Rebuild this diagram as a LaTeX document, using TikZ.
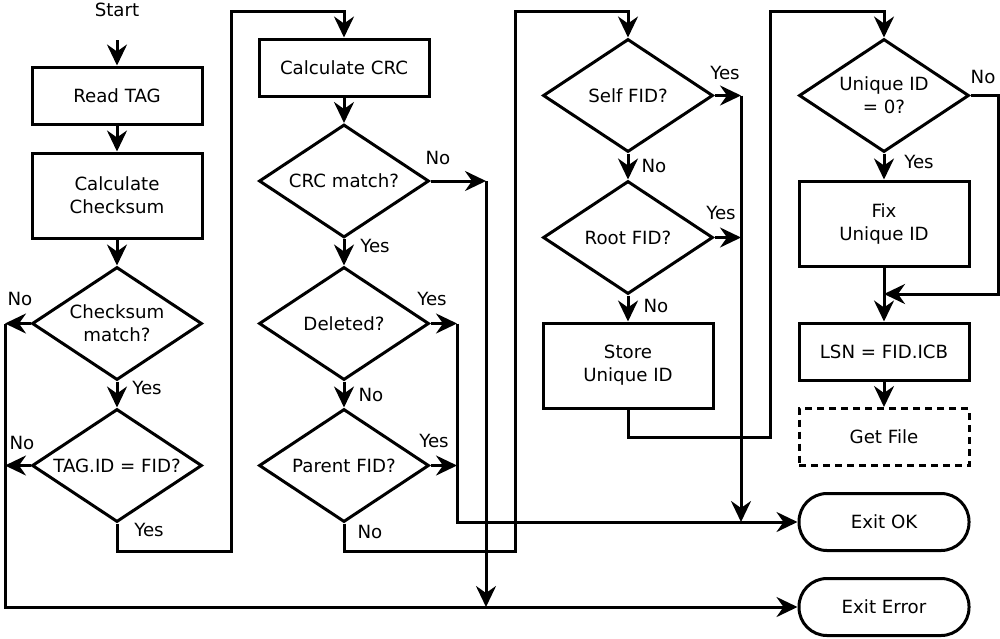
\documentclass[tikz,border=0pt]{standalone}
\usepackage{fontspec}
\setmainfont{DejaVu Sans}
\usetikzlibrary{shapes.geometric,arrows.meta}
\begin{document}
\begin{tikzpicture}[x=1pt,y=-1pt, line width=3pt,
  >={Stealth[length=21pt,width=20pt,inset=7pt]},
  every node/.style={font=\fontsize{18.2}{23}\selectfont, align=center},
  box/.style={draw, rectangle, minimum width=170pt, minimum height=#1, inner sep=0pt},
  dbox/.style={box=#1, dash pattern=on 7pt off 5pt},
  term/.style={draw, rectangle, rounded corners=28pt, minimum width=170pt, minimum height=57pt, inner sep=0pt},
  decision/.style={draw, diamond, aspect=1.5, minimum width=170pt, minimum height=113pt, inner sep=0pt},
  lbl/.style={inner sep=0pt}]
\useasboundingbox (0,0) rectangle (1000,638);

% nodes
\node[lbl] (start) at (117,10) {Start};
\node[box=57pt] (read) at (117,95.5) {Read TAG};
\node[box=85pt] (cks) at (117,195.5) {Calculate\\Checksum};
\node[decision] (cm) at (117,323.5) {Checksum\\match?};
\node[decision] (tid) at (117,465.5) {TAG.ID = FID?};

\node[box=57pt] (crc) at (344,67.5) {Calculate CRC};
\node[decision] (crcm) at (344,181) {CRC match?};
\node[decision] (del) at (344,323.5) {Deleted?};
\node[decision] (par) at (344,465.5) {Parent FID?};

\node[decision] (self) at (628,95.5) {Self FID?};
\node[decision] (root) at (628,237.5) {Root FID?};
\node[box=85pt] (store) at (628,365.5) {Store\\Unique ID};

\node[decision] (uid) at (884,95.5) {Unique ID\\= 0?};
\node[box=85pt] (fix) at (884,223.5) {Fix\\Unique ID};
\node[box=57pt] (lsn) at (884,351.5) {LSN = FID.ICB};
\node[dbox=57pt] (getf) at (884,437) {Get File};
\node[term] (exok) at (884,522) {Exit OK};
\node[term] (exerr) at (884,607) {Exit Error};

% labels
\node[lbl] at (20,299) {No};
\node[lbl] at (147,388) {Yes};
\node[lbl] at (22,443) {No};
\node[lbl] at (149,530) {Yes};
\node[lbl] at (438,158) {No};
\node[lbl] at (375,246) {Yes};
\node[lbl] at (432,299) {Yes};
\node[lbl] at (371,395) {No};
\node[lbl] at (434,441) {Yes};
\node[lbl] at (370,532) {No};
\node[lbl] at (725,73) {Yes};
\node[lbl] at (654,166) {No};
\node[lbl] at (721,213) {Yes};
\node[lbl] at (656,306) {No};
\node[lbl] at (983,77) {No};
\node[lbl] at (919,162) {Yes};

% coordinates
\coordinate (s0) at (117,40);
\coordinate (cmno) at (5,323.5);
\coordinate (tidno) at (5,465.5);
\coordinate (c1) at (231,551);
\coordinate (c2) at (344,11);
\coordinate (n1) at (486,181);
\coordinate (n1b) at (486,607);
\coordinate (y1) at (457,323.5);
\coordinate (y2) at (457,465.5);
\coordinate (c3) at (515,551);
\coordinate (c4) at (628,11);
\coordinate (y3) at (741,95.5);
\coordinate (y4) at (741,237.5);
\coordinate (y3b) at (741,522);
\coordinate (c5) at (770,437);
\coordinate (c6) at (884,11);
\coordinate (c7) at (998,294);
\coordinate (c8) at (884,294);

% connectors column 1
\draw[->] (s0) -- (read);
\draw[->] (read) -- (cks);
\draw[->] (cks) -- (cm);
\draw[->] (cm) -- (tid);
\draw[->] (cm.west) -- (cmno);
\draw[->] (tid.west) -- (tidno);
\draw[->] (cmno) |- (exerr);
\draw[->] (tid.south) |- (c1) |- (c2) -- (crc);

% column 2
\draw[->] (crc) -- (crcm);
\draw[->] (crcm.east) -- (n1);
\draw[->] (n1) -- (n1b);
\draw[->] (crcm) -- (del);
\draw[->] (del.east) -- (y1);
\draw[->] (del) -- (par);
\draw[->] (par.east) -- (y2);
\draw[->] (y1) |- (exok);
\draw[->] (par.south) |- (c3) |- (c4) -- (self);

% column 3
\draw[->] (self.east) -- (y3);
\draw[->] (self) -- (root);
\draw[->] (root.east) -- (y4);
\draw[->] (y3) -- (y3b);
\draw[->] (root) -- (store);
\draw[->] (store.south) |- (c5) |- (c6) -- (uid);

% column 4
\draw[->] (uid.east) -| (c7) -- (c8);
\draw[->] (uid) -- (fix);
\draw[->] (fix) -- (lsn);
\draw[->] (lsn) -- (getf);
\end{tikzpicture}
\end{document}
